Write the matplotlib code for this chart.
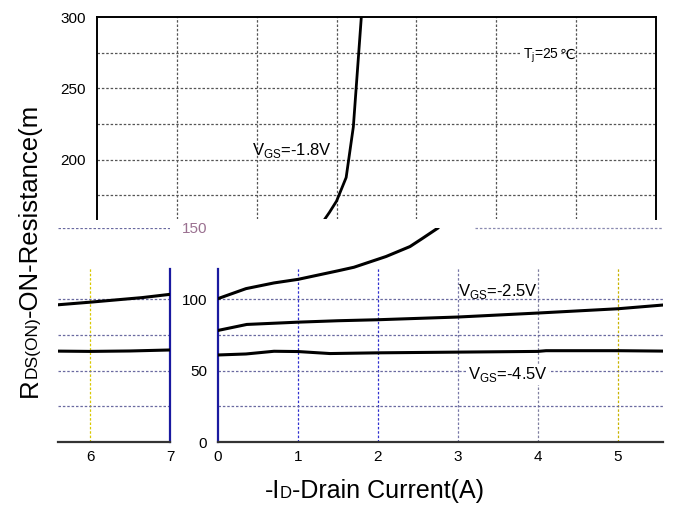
import matplotlib
matplotlib.use("Agg")
import matplotlib.pyplot as plt

plt.rcParams['font.family'] = ['Liberation Sans', 'DejaVu Sans']
plt.rcParams['mathtext.fontset'] = 'custom'
plt.rcParams['mathtext.rm'] = 'Liberation Sans'

# data (-ID in A, RDS(on) in mOhm)
vgs18_x = [0, 0.35, 0.7, 1.0, 1.5, 1.7, 2.1, 2.4, 2.55, 2.75, 2.91, 3.0, 3.12, 3.21, 3.31]
vgs18_y = [100.5, 107.5, 111.5, 114, 120, 122.5, 130, 137, 142.5, 150, 163, 171, 187.5, 223, 300]

vgs25_x = [0, 0.36, 1.0, 1.5, 2.0, 3.0, 4.0, 5.0, 5.56, 6.0, 6.65, 7.0]
vgs25_y = [78.2, 82.4, 84, 85, 85.7, 87.6, 90.4, 93.4, 96, 98, 101.2, 103.5]

vgs45_x = [0, 0.35, 0.7, 1.0, 1.4, 2.0, 3.0, 4.0, 4.1, 5.0, 6.0, 6.5, 7.0]
vgs45_y = [61, 61.7, 63.6, 63.4, 62, 62.5, 63, 63.5, 64, 64, 63.5, 63.8, 64.5]

curves = [(vgs18_x, vgs18_y), (vgs25_x, vgs25_y), (vgs45_x, vgs45_y)]

top_yticks = [200, 250, 300]
top_grid_y = [175, 200, 225, 250, 275]
low_grid_y = [25, 50, 75, 100]
br_xticks = [0, 1, 2, 3, 4, 5]
bl_xticks = [6, 7]
br_yticks = [0, 50, 100]

W, H = 677, 521
fig = plt.figure(figsize=(W / 100, H / 100), dpi=100)


def px_axes(left, top, right, bottom):
    return fig.add_axes([left / W, 1 - bottom / H, (right - left) / W, (bottom - top) / H])


grid_ls = (0, (2, 1.5))
px_per_unit = 214 / 150

# ---- upper piece of the plot (150..300 mOhm)
ax_t = px_axes(97, 17, 656, 219)
ax_t.set_xlim(0, 7)
ax_t.set_ylim(300 - 202 / px_per_unit, 300)
for x in range(1, 7):
    ax_t.axvline(x, color='#555555', lw=0.9, ls=grid_ls, zorder=1)
for y in top_grid_y:
    ax_t.axhline(y, color='#555555', lw=0.9, ls=grid_ls, zorder=1)
for cx, cy in curves:
    ax_t.plot(cx, cy, color='black', lw=2.0, zorder=3)
ax_t.spines['bottom'].set_visible(False)
for s in ['left', 'top', 'right']:
    ax_t.spines[s].set_linewidth(1.4)
ax_t.set_xticks([])
ax_t.set_yticks(top_yticks)
ax_t.tick_params(axis='y', length=0, pad=8, labelsize=11)
ax_t.text(1.94, 203.5, r'V$_{\rm GS}$=-1.8V', fontsize=12, va='baseline', ha='left', zorder=4)
tj = ax_t.text(5.33, 271, r'T$_{\rm j}$=25', fontsize=10, va='baseline', ha='left',
               bbox=dict(facecolor='white', edgecolor='none', pad=1), zorder=4)

# ---- lower piece, main part (x 0..5.56)
ax_r = px_axes(218, 228, 663, 442)
ax_r.set_xlim(0, 445 / 80)
ax_r.set_ylim(0, 150)
vcols = {1: '#3030d0', 2: '#3030d0', 3: '#7878a8', 4: '#8080a0', 5: '#c8b400'}
for x in br_xticks[1:]:
    ax_r.vlines(x, 0, 123, color=vcols[x], lw=0.9, ls=grid_ls, zorder=1)
for y in low_grid_y:
    ax_r.axhline(y, color='#6a6aa0', lw=0.9, ls=grid_ls, zorder=1)
ax_r.hlines(150, 3.21, 445 / 80, color='#8a8ab0', lw=0.9, ls=grid_ls, zorder=1, clip_on=False)
for cx, cy in curves:
    ax_r.plot(cx, cy, color='black', lw=2.2, zorder=3)
ax_r.spines['top'].set_visible(False)
ax_r.spines['right'].set_visible(False)
ax_r.spines['left'].set_bounds(0, 121)
ax_r.spines['left'].set_color('#1a1aa0')
ax_r.spines['left'].set_linewidth(1.6)
ax_r.spines['bottom'].set_color('#333333')
ax_r.spines['bottom'].set_linewidth(1.6)
ax_r.set_xticks(br_xticks)
ax_r.set_yticks(br_yticks + [150])
ax_r.tick_params(length=0, labelsize=11)
ax_r.tick_params(axis='y', pad=8)
ax_r.tick_params(axis='x', pad=6)
ax_r.get_yticklabels()[-1].set_color('#9a7090')
ax_r.text(3.0, 102.3, r'V$_{\rm GS}$=-2.5V', fontsize=12, va='baseline', ha='left', zorder=4)
ax_r.text(3.125, 44, r'V$_{\rm GS}$=-4.5V', fontsize=12, va='baseline', ha='left',
          bbox=dict(facecolor='white', edgecolor='none', pad=0.5), zorder=4)

# ---- lower piece, shifted tail (x 5.6..7)
ax_l = px_axes(58, 228, 170, 442)
ax_l.set_xlim(7 - 112 / 80, 7)
ax_l.set_ylim(0, 150)
ax_l.vlines(6, 0, 123, color='#d8c800', lw=0.9, ls=grid_ls, zorder=1)
for y in low_grid_y + [150]:
    ax_l.axhline(y, color='#6a6aa0', lw=0.9, ls=grid_ls, zorder=1)
for cx, cy in curves:
    ax_l.plot(cx, cy, color='black', lw=2.2, zorder=3)
ax_l.spines['top'].set_visible(False)
ax_l.spines['left'].set_visible(False)
ax_l.spines['right'].set_bounds(0, 121)
ax_l.spines['right'].set_color('#1a1aa0')
ax_l.spines['right'].set_linewidth(1.6)
ax_l.spines['bottom'].set_color('#333333')
ax_l.spines['bottom'].set_linewidth(1.6)
ax_l.set_xticks(bl_xticks)
ax_l.set_yticks([])
ax_l.tick_params(length=0, labelsize=11, pad=6)

# ---- pieces of text that need measuring
fig.canvas.draw()
renderer = fig.canvas.get_renderer()


def text_width(s, size):
    t = fig.text(0, 0, s, fontsize=size)
    w = t.get_window_extent(renderer).width
    t.remove()
    return w


# degree-celsius sign after the T_j label (Liberation has no glyph for it)
tj_box = tj.get_window_extent(renderer)
base_y = ax_t.transData.transform((5.33, 271))[1]
fig.text((tj_box.x1 + 0.5) / W, base_y / H, '℃', fontsize=10, family='DejaVu Sans',
         ha='left', va='baseline', zorder=5)

ypos = H - 397
for piece, size in [('R', 18.5), ('DS(ON)', 12.5), ('-ON-Resistance(m', 18.5)]:
    fig.text(37 / W, ypos / H, piece, fontsize=size, rotation=90,
             rotation_mode='anchor', ha='left', va='baseline')
    ypos += text_width(piece, size)

xl_pieces = [('-I', 18), ('D', 12), ('-Drain Current(A)', 18)]
widths = [text_width(p, s) for p, s in xl_pieces]
xpos = 374 - sum(widths) / 2
for (piece, size), w in zip(xl_pieces, widths):
    fig.text(xpos / W, (H - 498) / H, piece, fontsize=size, ha='left', va='baseline')
    xpos += w

fig.savefig('out.png', dpi=100)
